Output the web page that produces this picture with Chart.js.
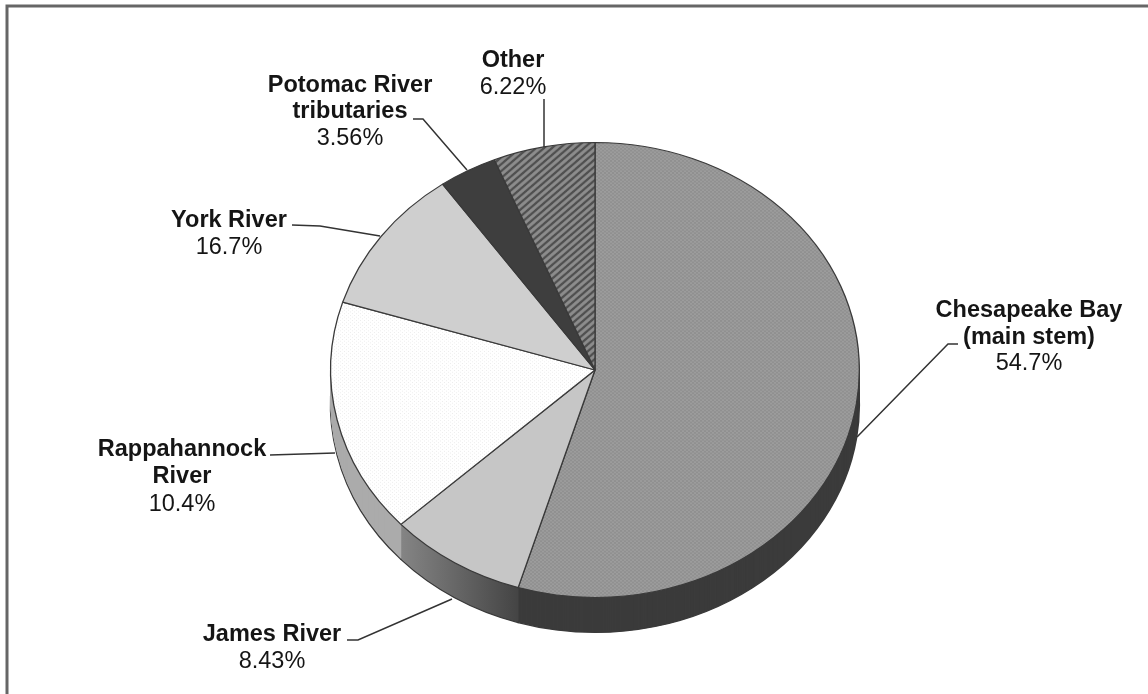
<!DOCTYPE html>
<html>
<head>
<meta charset="utf-8">
<style>html,body{margin:0;padding:0;background:#fff;overflow:hidden}canvas{display:block}</style>
<script src="https://cdn.jsdelivr.net/npm/chart.js@4"></script>
</head>
<body>
<canvas id="c" width="1148" height="694"></canvas>
<script>
// Slices, in drawing order clockwise from the top
const categories = ['Chesapeake Bay (main stem)', 'James River', 'Rappahannock River', 'York River', 'Potomac River tributaries', 'Other'];
// Slice sizes (the white slice is the larger, the pale grey the smaller)
const sliceValues = [54.7, 8.43, 16.7, 10.4, 3.56, 6.22];
// Values as printed beside the slices
const printedValues = ['54.7%', '8.43%', '10.4%', '16.7%', '3.56%', '6.22%'];

const CX = 595, CY = 370, RX = 265, RY = 228, DEPTH = 35;
const INK = '#151515';

function tile(w, h, bg, paint) {
  const t = document.createElement('canvas');
  t.width = w; t.height = h;
  const g = t.getContext('2d');
  g.fillStyle = bg; g.fillRect(0, 0, w, h);
  paint(g);
  return g.createPattern(t, 'repeat');
}
const ctx0 = document.getElementById('c').getContext('2d');
const fills = [
  tile(4, 4, '#9c9c9c', g => { g.fillStyle = '#909090'; g.fillRect(0, 0, 2, 2); g.fillRect(2, 2, 2, 2); }),
  '#c6c6c6',
  tile(4, 4, '#ffffff', g => { g.fillStyle = '#ececec'; g.fillRect(0, 0, 1, 1); g.fillRect(2, 2, 1, 1); }),
  '#cfcfcf',
  '#3e3e3e',
  tile(8, 8, '#8c8c8c', g => {
    g.strokeStyle = '#505050'; g.lineWidth = 2.4;
    g.beginPath(); g.moveTo(-2, 10); g.lineTo(10, -2); g.moveTo(-6, 6); g.lineTo(6, -6); g.moveTo(2, 14); g.lineTo(14, 2); g.stroke();
  })
];
const jamesSide = ctx0.createLinearGradient(400, 0, 517, 0);
jamesSide.addColorStop(0, '#858585');
jamesSide.addColorStop(1, '#454545');
const sideFills = ['#3b3b3b', jamesSide, '#ababab', '#9a9a9a', '#2a2a2a', '#555555'];

// Label blocks: text lines, centre x, baselines; the last line is the printed value
const labels = [
  { lines: ['Chesapeake Bay', '(main stem)'], value: 0, x: 1029, y: [317, 344, 370] },
  { lines: ['James River'], value: 1, x: 272, y: [641, 668] },
  { lines: ['Rappahannock', 'River'], value: 2, x: 182, y: [456, 483, 511] },
  { lines: ['York River'], value: 3, x: 229, y: [227, 254] },
  { lines: ['Potomac River', 'tributaries'], value: 4, x: 350, y: [92, 118, 145] },
  { lines: ['Other'], value: 5, x: 513, y: [67, 94] }
];
const leaders = [
  [[857, 437], [948, 344], [958, 344]],
  [[347, 640], [358, 640], [452, 599]],
  [[270, 455], [335, 453]],
  [[292, 225], [320, 226], [380, 236]],
  [[413, 119], [423, 119], [467, 170]],
  [[544, 99], [544, 147]]
];

function squash(ctx, dy) {
  ctx.translate(CX, CY + dy);
  ctx.scale(1, RY / RX);
  ctx.translate(-CX, -CY);
}

const pie3d = {
  id: 'pie3d',
  beforeDatasetsDraw(chart) {
    const ctx = chart.ctx;
    const arcs = chart.getDatasetMeta(0).data;
    for (let d = DEPTH; d >= 1; d--) {
      ctx.save();
      squash(ctx, d);
      arcs.forEach((arc, i) => {
        const keep = arc.options;
        arc.options = {
          backgroundColor: sideFills[i], borderColor: '#3a3a3a',
          borderWidth: d === DEPTH ? 1.5 : 0, borderAlign: 'center', borderRadius: 0,
          borderJoinStyle: 'round', borderDash: [], borderDashOffset: 0, offset: 0, spacing: 0,
          selfJoin: false, circular: true
        };
        arc.draw(ctx);
        arc.options = keep;
      });
      ctx.restore();
    }
    ctx.save();
    squash(ctx, 0);
  },
  afterDatasetsDraw(chart) {
    chart.ctx.restore();
  },
  afterDraw(chart) {
    const ctx = chart.ctx;
    ctx.save();
    // frame, open at right and bottom as in the source scan
    ctx.strokeStyle = '#666666';
    ctx.lineWidth = 3;
    ctx.beginPath();
    ctx.moveTo(7, 694); ctx.lineTo(7, 6); ctx.lineTo(1148, 6);
    ctx.stroke();
    // leader lines
    ctx.strokeStyle = '#333333';
    ctx.lineWidth = 1.5;
    leaders.forEach(pts => {
      ctx.beginPath();
      pts.forEach((p, i) => i ? ctx.lineTo(p[0], p[1]) : ctx.moveTo(p[0], p[1]));
      ctx.stroke();
    });
    // labels
    ctx.fillStyle = INK;
    ctx.textAlign = 'center';
    ctx.textBaseline = 'alphabetic';
    labels.forEach(l => {
      ctx.font = 'bold 23.5px "Liberation Sans", Arial, sans-serif';
      l.lines.forEach((t, i) => ctx.fillText(t, l.x, l.y[i]));
      ctx.font = '23.5px "Liberation Sans", Arial, sans-serif';
      ctx.fillText(printedValues[l.value], l.x, l.y[l.lines.length]);
    });
    ctx.restore();
  }
};

new Chart(ctx0, {
  type: 'pie',
  data: {
    labels: categories,
    datasets: [{
      data: sliceValues,
      backgroundColor: fills,
      borderColor: '#3a3a3a',
      borderWidth: 1.3,
      borderAlign: 'center',
      clip: false
    }]
  },
  options: {
    responsive: false,
    animation: false,
    events: [],
    layout: { padding: { left: CX - RX, right: 1148 - CX - RX, top: CY - RX, bottom: 694 - CY - RX } },
    plugins: { legend: { display: false }, tooltip: { enabled: false }, title: { display: false } }
  },
  plugins: [pie3d]
});
</script>
</body>
</html>
